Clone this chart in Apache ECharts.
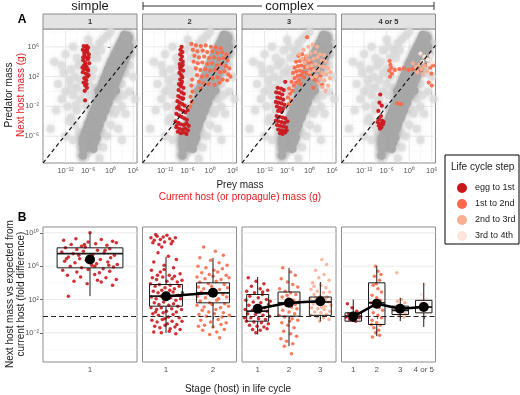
<!DOCTYPE html>
<html>
<head>
<meta charset="utf-8">
<script src="https://cdn.jsdelivr.net/npm/echarts@6/dist/echarts.min.js"></script>
<style>
  html, body { margin: 0; padding: 0; background: #fff; }
  #chart { width: 520px; height: 395px; }
</style>
</head>
<body>
<div id="chart"></div>
<script>
const FONT = '"Liberation Sans", Arial, sans-serif';

// life cycle steps
const stepNames = ['egg to 1st', '1st to 2nd', '2nd to 3rd', '3rd to 4th'];
const stepColors = ['#cb181d', '#fb6a4a', '#fcae91', '#fee5d9'];
const panelNames = ['1', '2', '3', '4 or 5'];

// panel A axes (log10 of mass in g)
const topXTicks = [-12, -6, 0, 6];
const topXLabels = ['10⁻¹²', '10⁻⁶', '10⁰', '10⁶'];
const topXMinor = [-15, -9, -3, 3];
const topYTicks = [-6, -2, 2, 6];
const topYLabels = ['10⁻⁶', '10⁻²', '10²', '10⁶'];
const topYMinor = [-8, -4, 0, 4, 8];
const refLine = [[-18, -9.6], [7, 6.2]];

// panel B axes (log10 of fold difference)
const botYTicks = [-2, 2, 6, 10];
const botYLabels = ['10⁻²', '10²', '10⁶', '10¹⁰'];
const botYMinor = [-4, 0, 4, 8];
const stageLabels = [['1'], ['1', '2'], ['1', '2', '3'], ['1', '2', '3', '4 or 5']];

// predator-prey background cloud [log prey mass, log predator mass]
const grayDense = [
  [-6.6,-7.6],[-5.4,-7.4],[-4.6,-7.7],
  [-7.1,-7.0],[-6.0,-6.9],[-5.1,-7.1],[-4.2,-6.8],
  [-7.3,-6.4],[-6.4,-6.5],[-5.5,-6.3],[-4.5,-6.6],[-3.7,-6.2],
  [-6.9,-5.9],[-6.0,-5.8],[-5.0,-6.0],[-4.0,-5.7],
  [-6.7,-5.4],[-5.7,-5.3],[-4.8,-5.5],[-3.8,-5.2],
  [-6.3,-4.9],[-5.4,-5.0],[-4.3,-4.8],[-3.4,-5.0],
  [-6.0,-4.4],[-5.0,-4.6],[-4.0,-4.3],[-3.0,-4.5],
  [-5.6,-4.0],[-4.6,-3.9],[-3.6,-4.1],[-2.6,-3.8],
  [-5.2,-3.4],[-4.2,-3.6],[-3.2,-3.3],[-2.2,-3.5],
  [-4.8,-3.0],[-3.8,-2.9],[-2.8,-3.1],[-1.8,-2.8],
  [-4.4,-2.4],[-3.4,-2.6],[-2.4,-2.3],[-1.4,-2.5],
  [-4.0,-2.0],[-3.0,-1.9],[-2.0,-2.1],[-1.0,-1.8],
  [-3.6,-1.4],[-2.6,-1.6],[-1.6,-1.3],[-0.6,-1.5],
  [-3.3,-1.0],[-2.2,-0.9],[-1.2,-1.1],[-0.2,-0.8],
  [-3.0,-0.4],[-1.9,-0.6],[-0.9,-0.3],[0.2,-0.5],
  [-3.2,0.1],[-2.0,0.0],[-0.8,0.2],[0.4,-0.1],[1.4,0.1],
  [-2.5,0.6],[-1.4,0.4],[-0.3,0.7],[0.8,0.5],
  [-2.2,1.1],[-1.0,0.9],[0.1,1.2],[1.2,1.0],
  [-1.8,1.6],[-0.6,1.4],[0.5,1.7],[1.6,1.5],
  [-1.4,2.1],[-0.2,1.9],[0.9,2.2],[2.0,2.0],
  [-1.0,2.6],[0.2,2.4],[1.3,2.7],[2.4,2.5],
  [-0.6,3.1],[0.6,2.9],[1.7,3.2],[2.8,3.0],
  [-0.2,3.6],[1.0,3.4],[2.1,3.7],[3.2,3.5],
  [0.2,4.1],[1.4,3.9],[2.5,4.2],[3.6,4.0],
  [0.8,4.6],[1.8,4.4],[2.9,4.7],[4.0,4.5],
  [1.2,5.1],[2.2,4.9],[3.3,5.2],[4.4,5.0],
  [1.7,5.6],[2.7,5.4],[3.7,5.7],[4.7,5.5],
  [2.2,6.1],[3.1,5.9],[4.0,6.2],[5.0,6.0],
  [2.7,6.6],[3.6,6.4],[4.4,6.7],
  [3.2,7.1],[4.0,6.9],[4.8,7.2],
  [3.6,7.6],[4.4,7.5],
  [-7.2,-6.2],[-7.4,-7.0],[-7.2,-7.8],[-7.4,-8.6]
];
const grayFaint = [
  [-14,1],[-13,-1],[-12.5,2.5],[-12,0],[-11.5,-2],[-11,1.5],[-10.5,3],[-10,-0.5],
  [-9.5,2],[-9,-2.5],[-9,0.5],[-8.5,3.5],[-8,-1],[-8,1.5],[-7.5,4],[-7,0],
  [-7,2.5],[-6.5,-2],[-6,3],[-6,1],[-5.5,-0.5],[-5,4.5],[-5,2],[-4.5,0.5],
  [-4,5.5],[-4.5,3],[-3,6.5],[-3.5,4.5],[-2,7],[-2.5,5.5],[-1,7.5],[0,8],
  [-8,-6.5],[-8,-7.5],[-8,-8.5],[-7.5,-9],[-8.5,-5.5],[-9.5,-4.5],[-10.5,-3.5],[-6.5,-8.5],
  [1,-3],[2,-1],[3,1],[4,2.5],[5,3.5],[5.5,5],[6,6.5],[0,-4.5],[-1,-6],[-2,-7.5],
  [3,-2],[5,0],[6,2],[2,-5],[4,-3],
  [-16,-5],[-15,4],[-12,-6],[-10,6],[-6,7],[6.5,-1],[3,-6.5],[-3,-9],[5,7.5],
  [-13,3.5],[-11,-4],[-9,4.5],[-7,5.5],[-12,5],[-14.5,-2.5],[-10,-6.5],[-5.5,6],
  [-5.8,-7.8],[-2.2,-5.5],[1.5,-2.5],[3.5,-0.5],[-9.2,-1.8],[-10.6,0.6]
];

// panel A: parasite transmission [log current host mass, log next host mass]
const a1Egg = [
  [-7.2,6.1],[-6.6,6.0],[-6.0,5.9],[-7.4,5.6],[-6.8,5.5],[-6.2,5.3],[-5.8,5.0],[-7.0,4.9],
  [-6.5,4.6],[-7.3,4.2],[-6.1,4.3],[-6.8,3.9],[-5.7,3.8],[-7.1,3.5],[-6.4,3.3],[-6.9,3.0],
  [-6.0,2.8],[-7.4,2.6],[-6.6,2.4],[-6.2,2.0],[-7.0,1.8],[-6.5,1.5],[-7.2,1.2],[-6.8,0.8],
  [-6.3,0.5],[-6.9,0.1],[-7.3,4.6],[-6.3,5.6],[-5.9,4.6],[-6.7,3.6],[-7.5,3.2],[-6.1,3.0],
  [-6.4,1.0],[-6.8,-1.2],[-7.0,5.2],[-6.4,6.1],[-5.9,2.2]
];
const a2Egg = [
  [-7.6,6.0],[-7.9,5.6],[-7.4,5.3],[-8.0,5.0],[-7.5,4.7],[-7.8,4.3],[-7.3,4.0],[-8.1,3.7],
  [-7.6,3.4],[-7.9,3.0],[-7.2,2.8],[-8.2,2.5],[-7.7,2.2],[-7.4,1.9],[-8.0,1.6],[-7.5,1.3],
  [-8.3,1.0],[-7.8,0.7],[-7.1,0.5],[-8.4,0.2],[-7.6,-0.1],[-7.0,-0.3],[-8.5,-0.6],[-7.9,-0.8],
  [-7.3,-1.0],[-8.7,-1.3],[-8.1,-1.5],[-7.4,-1.7],[-6.8,-1.9],[-8.8,-2.2],[-8.0,-2.4],[-7.2,-2.6],
  [-6.6,-2.8],[-9.0,-3.0],[-8.3,-3.2],[-7.6,-3.4],[-6.9,-3.6],[-6.2,-3.8],[-9.2,-4.0],[-8.5,-4.2],
  [-7.8,-4.4],[-7.0,-4.5],[-6.3,-4.3],[-5.7,-4.6],[-9.0,-4.8],[-8.2,-5.0],[-7.4,-5.1],[-6.6,-5.0],
  [-5.9,-5.2],[-8.6,-5.4],[-7.8,-5.6],[-7.0,-5.5],[-6.3,-5.7],[-8.0,3.3],[-7.3,3.6],[-7.7,1.0],
  [-7.2,-0.9],[-8.4,-2.0],[-6.0,-2.5],[-8.9,-4.6]
];
const a2First = [
  [-5.0,6.4],[-3.8,6.2],[-2.5,6.1],[-1.2,6.2],[0.2,6.0],[1.5,5.9],[2.8,5.8],[-4.6,5.6],
  [-3.4,5.4],[-2.0,5.5],[-0.8,5.3],[0.6,5.4],[1.9,5.2],[3.2,5.3],[4.3,5.0],[-4.2,4.8],
  [-3.0,4.6],[-1.6,4.7],[-0.3,4.5],[1.0,4.6],[2.3,4.4],[3.5,4.5],[4.6,4.2],[-4.4,4.0],
  [-3.3,3.8],[-2.1,3.9],[-0.8,3.7],[0.5,3.8],[1.8,3.5],[3.0,3.7],[4.2,3.4],[5.1,3.1],
  [-3.8,3.1],[-2.6,2.9],[-1.3,3.0],[0.0,2.8],[1.3,2.9],[2.6,2.6],[3.8,2.7],[4.8,2.3],
  [-3.5,2.2],[-2.2,2.0],[-0.9,2.1],[0.6,1.8],[2.0,1.9],[3.3,1.6],[4.5,1.5],[-3.0,1.3],
  [-1.8,1.1],[-0.4,1.0],[1.2,0.9],[-4.8,1.6],[-5.0,0.8],[-4.7,0.0],[-5.2,-0.7],[-4.9,-1.4],
  [-5.3,-2.0],[-2.6,0.4],[5.4,2.0],[2.5,1.2]
];
const a3Egg = [
  [-6.5,1.3],[-8.5,0.5],[-7.6,0.4],[-6.9,0.2],[-8.9,-0.1],[-8.1,-0.2],[-7.3,-0.4],[-8.6,-0.8],
  [-7.8,-0.9],[-7.0,-1.1],[-9.0,-1.4],[-8.3,-1.5],[-7.5,-1.6],[-6.7,-1.8],[-8.7,-2.0],[-7.9,-2.2],
  [-7.1,-2.3],[-8.4,-2.6],[-7.5,-2.7],[-8.8,-3.3],[-8.0,-3.4],[-7.2,-3.5],[-6.5,-3.6],[-9.0,-3.9],
  [-8.3,-4.0],[-7.5,-4.1],[-6.7,-4.2],[-5.9,-4.0],[-8.7,-4.5],[-7.9,-4.6],[-7.1,-4.7],[-6.3,-4.8],
  [-8.4,-5.1],[-7.6,-5.2],[-6.8,-5.3],[-6.1,-5.2],[-7.9,-5.6],[-7.2,-5.7],[-6.5,-5.5]
];
const a3First = [
  [-5.6,-1.7],[-5.0,-1.2],[-5.8,-0.8],[-5.2,-0.3],[-4.6,0.1],[-5.5,0.4],[-4.2,0.8],[-3.6,1.2],
  [-4.8,1.3],[-2.9,1.5],[-4.0,1.8],[-3.2,2.1],[-2.3,2.2],[-1.5,1.9],[-4.4,2.5],[-3.5,2.7],
  [-2.6,2.8],[-1.7,2.6],[-0.8,2.5],[0.1,2.3],[-4.0,3.2],[-3.1,3.4],[-2.2,3.5],[-1.3,3.3],
  [-0.4,3.2],[0.6,3.0],[-3.6,4.0],[-2.6,4.1],[-1.7,4.3],[-0.8,4.0],[0.2,3.9],[-3.0,4.8],
  [-2.0,5.0],[-1.0,4.7],[1.3,1.6],[2.2,1.2],[3.3,0.9],[2.8,2.0],[-0.7,7.3],[1.0,0.5],[-2.4,1.0]
];
const a3Second = [
  [-2.8,5.0],[-1.6,5.6],[-0.4,6.0],[0.8,6.3],[2.0,6.0],[-2.0,4.4],[-0.9,4.8],[0.3,5.1],
  [1.5,5.3],[2.7,5.0],[3.8,4.9],[-1.3,3.9],[-0.2,4.2],[1.0,4.4],[2.1,4.6],[3.2,4.2],
  [4.3,4.0],[-0.6,3.3],[0.5,3.5],[1.6,3.7],[2.7,3.4],[3.8,3.3],[4.9,3.1],[0.0,2.6],
  [1.1,2.8],[2.2,2.9],[3.3,2.5],[4.4,2.3],[5.4,1.8],[0.6,1.9],[1.7,2.1],[2.8,1.7],
  [3.9,1.5],[4.9,0.8],[2.3,1.1],[3.4,0.6],[4.2,0.1],[5.5,2.6]
];
const a4Egg = [
  [-7.7,-0.4],[-7.9,-1.5],[-7.3,-1.9],[-8.2,-2.6],[-7.5,-3.3],[-8.0,-3.7],[-7.2,-3.9],
  [-8.4,-4.1],[-7.7,-4.3],[-7.0,-4.4],[-8.1,-4.6],[-7.4,-4.8],[-7.8,-5.0],[-6.8,-4.1]
];
const a4First = [
  [-5.2,4.1],[-5.0,3.6],[-4.8,3.2],[-5.3,2.8],[-4.6,2.4],[-5.1,2.0],[-3.8,2.9],[-2.6,3.0],
  [-1.4,3.1],[-0.2,2.9],[0.9,3.0],[2.0,3.2],[3.1,2.9],[4.6,3.6],[5.6,3.2],[6.4,3.5],
  [5.9,2.4],[5.2,1.2],[6.0,0.8],[-3.2,-1.6],[-2.2,-1.7]
];
const a4Second = [[1.0,3.8],[1.8,3.3],[2.6,3.6],[3.3,3.0],[4.0,3.4],[4.7,2.7],[2.2,2.6],[3.6,2.3]];
const a4Third = [[3.0,5.1],[4.0,4.7],[4.9,4.3],[5.8,4.8],[6.3,3.9],[3.5,4.0],[5.2,3.6]];

// panel B: jittered points [stage position, log fold difference]
const b1Egg = [
  [0.50,10.0],[0.27,2.4],[0.22,9.1],[0.35,9.3],[0.48,8.9],[0.62,9.2],[0.74,9.0],[0.30,8.6],
  [0.41,8.4],[0.56,8.7],[0.68,8.5],[0.78,8.8],[0.24,8.2],[0.36,8.0],[0.45,8.3],[0.58,7.9],
  [0.71,8.1],[0.20,7.7],[0.32,7.5],[0.43,7.8],[0.53,7.4],[0.65,7.6],[0.76,7.3],[0.27,7.1],
  [0.39,6.9],[0.50,7.2],[0.61,6.8],[0.72,7.0],[0.23,6.6],[0.34,6.4],[0.46,6.7],[0.57,6.3],
  [0.69,6.5],[0.79,6.2],[0.29,6.0],[0.41,5.8],[0.52,6.1],[0.64,5.7],[0.75,5.9],[0.21,5.5],
  [0.36,5.3],[0.48,5.6],[0.60,5.2],[0.71,5.4],[0.26,4.9],[0.40,4.7],[0.55,5.0],[0.67,4.6],
  [0.78,4.4],[0.33,4.2],[0.47,3.9],[0.62,4.1],[0.74,3.7],[0.44,8.6],[0.66,7.9],[0.38,7.3],
  [0.55,6.0],[0.25,6.9],[0.70,6.1],[0.58,4.3]
];
const b2Egg = [
  [0.18,9.4],[0.25,9.1],[0.31,9.6],[0.38,9.2],[0.44,9.5],[0.22,8.8],[0.52,9.7],[0.58,9.3],
  [0.64,9.0],[0.35,8.6],[0.28,9.8],[0.47,8.9],[0.70,9.4],[0.61,8.7],[0.41,8.3],
  [0.33,7.6],[0.55,7.2],[0.72,6.8],[0.24,6.5],[0.46,6.1],[0.66,5.8],[0.19,5.5],[0.38,5.3],
  [0.80,5.1],[0.57,4.9],
  [0.21,4.6],[0.30,4.4],[0.43,4.7],[0.52,4.2],[0.63,4.5],[0.74,4.1],[0.84,4.3],[0.17,3.9],
  [0.27,3.6],[0.36,3.8],[0.48,3.4],[0.59,3.7],[0.68,3.3],[0.78,3.6],[0.23,3.0],[0.33,2.8],
  [0.41,3.1],[0.55,2.7],[0.65,2.9],[0.76,2.5],[0.85,2.8],[0.19,2.3],[0.29,2.1],[0.39,2.4],
  [0.50,2.0],[0.60,2.2],[0.71,1.9],[0.81,2.1],[0.25,1.6],[0.35,1.4],[0.45,1.7],[0.56,1.3],
  [0.66,1.5],[0.75,1.2],[0.18,1.0],[0.30,0.8],[0.40,1.0],[0.51,0.6],[0.62,0.9],[0.72,0.5],
  [0.83,0.8],[0.22,0.3],[0.34,0.1],[0.44,0.4],[0.55,-0.1],[0.65,0.2],[0.78,-0.2],[0.20,-0.5],
  [0.31,-0.7],[0.42,-0.4],[0.53,-0.9],[0.63,-0.6],[0.73,-1.0],[0.84,-0.6],[0.26,-1.2],[0.37,-1.4],
  [0.48,-1.1],[0.59,-1.5],[0.69,-1.3],[0.80,-1.6],[0.24,-1.9],[0.40,-2.0],[0.57,-1.8],[0.71,-2.1],
  [0.32,4.9],[0.68,4.8],[0.46,5.6],[0.28,0.5],[0.58,3.1],[0.47,-0.3]
];
const b2First = [
  [1.30,8.3],[1.55,7.8],[1.72,7.3],[1.22,7.0],[1.45,6.7],[1.63,6.4],[1.80,6.1],[1.18,6.0],
  [1.35,5.8],[1.52,5.5],[1.70,5.7],[1.26,5.2],[1.42,5.0],[1.60,5.3],[1.78,4.9],[1.16,4.7],
  [1.33,4.5],[1.50,4.8],[1.67,4.4],[1.84,4.6],[1.22,4.1],[1.40,3.9],[1.57,4.2],[1.74,3.8],
  [1.19,3.5],[1.30,3.3],[1.47,3.6],[1.64,3.2],[1.81,3.4],[1.25,2.9],[1.38,2.7],[1.55,3.0],
  [1.71,2.6],[1.17,2.4],[1.34,2.2],[1.50,2.5],[1.62,2.1],[1.79,2.3],[1.23,1.8],[1.43,1.6],
  [1.58,1.9],[1.75,1.5],[1.16,1.3],[1.31,1.1],[1.48,1.4],[1.66,1.0],[1.83,1.2],[1.27,0.7],
  [1.41,0.5],[1.56,0.8],[1.72,0.4],[1.20,0.2],[1.36,0.0],[1.53,0.3],[1.69,-0.1],[1.85,0.1],
  [1.24,-0.5],[1.45,-0.7],[1.61,-0.4],[1.78,-0.8],[1.32,-1.1],[1.50,-1.3],[1.67,-1.0],[1.28,-1.7],
  [1.58,-1.9],[1.43,-2.2],[1.64,-2.6],[1.74,-1.6],[1.19,-1.2]
];
const b3Egg = [
  [0.20,4.6],[0.45,4.2],[0.70,3.9],[0.30,3.6],[0.58,3.3],[0.15,3.0],[0.82,3.1],[0.40,2.8],
  [0.65,2.6],[0.25,2.4],[0.52,2.2],[0.78,2.0],[0.12,1.9],[0.36,1.7],[0.60,1.6],[0.85,1.4],
  [0.22,1.3],[0.47,1.1],[0.72,1.0],[0.10,0.8],[0.33,0.7],[0.57,0.5],[0.80,0.6],[0.18,0.3],
  [0.43,0.2],[0.67,0.1],[0.88,0.0],[0.28,-0.2],[0.53,-0.3],[0.75,-0.4],[0.14,-0.6],[0.38,-0.7],
  [0.62,-0.8],[0.84,-0.9],[0.24,-1.1],[0.48,-1.2],[0.70,-1.3],[0.34,-1.6],[0.58,-1.7],[0.80,-1.5],
  [0.44,-2.0],[0.66,2.9],[0.90,1.8],[0.08,-0.2]
];
const b3First = [
  [1.30,5.8],[1.55,5.3],[1.70,4.9],[1.25,4.5],[1.45,4.1],[1.62,3.8],[1.78,3.5],[1.20,3.3],
  [1.38,3.0],[1.55,2.8],[1.72,2.6],[1.28,2.3],[1.48,2.1],[1.65,1.9],[1.82,1.7],[1.22,1.5],
  [1.40,1.3],[1.58,1.1],[1.75,0.9],[1.30,0.7],[1.50,0.5],[1.68,0.3],[1.18,0.1],[1.36,-0.1],
  [1.60,-0.3],[1.78,-0.5],[1.27,-0.8],[1.46,-1.1],[1.66,-1.4],[1.33,-1.8],[1.55,-2.1],[1.74,-2.4],
  [1.24,-2.7],[1.42,-3.0],[1.62,-3.3],[1.35,-3.6],[1.58,-4.5],[1.70,1.4],[1.44,2.5],[1.52,-0.6]
];
const b3Second = [
  [2.55,6.8],[2.70,6.2],[2.35,5.5],[2.62,5.0],[2.45,4.6],[2.78,4.3],[2.25,4.0],[2.52,3.7],
  [2.68,3.4],[2.20,3.2],[2.40,3.0],[2.60,2.8],[2.80,2.9],[2.30,2.6],[2.50,2.4],[2.72,2.3],
  [2.18,2.1],[2.38,1.9],[2.58,1.8],[2.76,1.7],[2.27,1.5],[2.47,1.4],[2.65,1.2],[2.84,1.3],
  [2.22,1.0],[2.42,0.9],[2.62,0.8],[2.80,0.6],[2.32,0.5],[2.52,0.4],[2.70,0.2],[2.20,0.1],
  [2.40,-0.1],[2.60,-0.2],[2.78,-0.4],[2.48,-0.6],[2.35,2.2],[2.66,2.0],[2.55,1.1],[2.30,3.6]
];
const b4Egg = [[0.25,1.5],[0.45,1.0],[0.65,0.6],[0.30,0.3],[0.55,0.1],[0.75,-0.2],[0.35,-0.4],[0.60,-0.6],[0.20,-0.1],[0.50,-0.5]];
const b4First = [
  [1.45,6.0],[1.55,5.4],[1.40,4.8],[1.62,4.3],[1.35,3.7],[1.55,3.3],[1.70,2.9],[1.30,2.5],
  [1.50,2.2],[1.65,1.9],[1.25,1.6],[1.45,1.3],[1.60,1.0],[1.75,0.7],[1.35,0.4],[1.55,0.1],
  [1.70,-0.2],[1.30,-0.5],[1.50,-0.8],[1.65,-1.1],[1.38,-1.4],[1.58,-1.7],[1.45,-2.0],[1.62,-2.3],
  [1.32,-2.5],[1.48,3.9],[1.68,5.0],[1.28,-1.0]
];
const b4Second = [[2.35,5.2],[2.55,2.0],[2.70,1.6],[2.40,1.3],[2.60,1.0],[2.30,0.7],[2.50,0.5],[2.72,0.3],[2.45,0.1],[2.65,-0.1],[2.38,1.8],[2.58,0.8]];
const b4Third = [[3.55,3.8],[3.40,2.6],[3.62,2.1],[3.35,1.6],[3.50,1.2],[3.68,0.8],[3.42,0.5],[3.58,0.2],[3.70,1.5],[3.30,0.9]];

// boxplot stats per stage: [lower whisker, Q1, median, Q3, upper whisker]
const b1Box = [[2.4, 5.8, 7.5, 8.2, 10.0]];
const b2Box = [[-2.0, 1.2, 2.4, 3.8, 7.1], [-1.4, 1.6, 2.8, 4.0, 7.0]];
const b3Box = [[-2.2, -0.6, 0.6, 2.6, 4.7], [-3.6, 0.0, 1.6, 2.9, 5.8], [-0.6, 0.1, 1.7, 2.3, 4.1]];
const b4Box = [[-0.7, -0.6, 0.0, 0.4, 2.0], [-2.4, -1.0, 1.6, 4.0, 6.0], [-0.6, 0.2, 0.7, 1.2, 2.2], [-1.3, 0.4, 1.1, 1.9, 4.0]];
// means per stage
const b1Mean = [6.8];
const b2Mean = [2.4, 2.8];
const b3Mean = [0.9, 1.6, 1.8];
const b4Mean = [-0.05, 1.5, 0.9, 1.1];

const topPoints = [
  [a1Egg],
  [a2Egg, a2First],
  [a3Egg, a3First, a3Second],
  [a4Egg, a4First, a4Second, a4Third]
];
const botPoints = [
  [b1Egg],
  [b2Egg, b2First],
  [b3Egg, b3First, b3Second],
  [b4Egg, b4First, b4Second, b4Third]
];
const botBoxes = [b1Box, b2Box, b3Box, b4Box];
const botMeans = [b1Mean, b2Mean, b3Mean, b4Mean];

const panelLeft = [43, 142.5, 242, 341.5];
const panelW = 94;

const grids = [], xAxes = [], yAxes = [], series = [];
const labelStyle = { fontSize: 7.5, color: '#555', fontFamily: FONT };

function gridLines(gi, xMaj, xMin, yMaj, yMin) {
  const data = [];
  xMin.forEach(v => data.push([v, 0]));
  xMaj.forEach(v => data.push([v, 1]));
  yMin.forEach(v => data.push([v, 2]));
  yMaj.forEach(v => data.push([v, 3]));
  return {
    type: 'custom', xAxisIndex: gi, yAxisIndex: gi, silent: true, z: 1,
    data: data,
    renderItem: (params, api) => {
      const v = api.value(0), kind = api.value(1);
      const cs = params.coordSys;
      let shape;
      if (kind < 2) {
        const x = api.coord([v, 0])[0];
        shape = { x1: x, y1: cs.y, x2: x, y2: cs.y + cs.height };
      } else {
        const y = api.coord([0, v])[1];
        shape = { x1: cs.x, y1: y, x2: cs.x + cs.width, y2: y };
      }
      const major = kind % 2 === 1;
      return { type: 'line', shape: shape, style: { stroke: major ? '#e4e4e4' : '#f2f2f2', lineWidth: major ? 0.8 : 0.5 } };
    }
  };
}

const dot = (color, opacity) => ({ color: color, opacity: opacity, borderWidth: 0, borderColor: 'transparent' });

// panel A
panelLeft.forEach((l, i) => {
  grids.push({ left: l, top: 29, width: panelW, height: 134, show: true, backgroundColor: '#fff', borderColor: '#8c8c8c', borderWidth: 1 });
  xAxes.push({
    type: 'value', gridIndex: i, min: -18, max: 7,
    axisLine: { show: false }, splitLine: { show: false },
    axisTick: { customValues: topXTicks, length: 3, lineStyle: { color: '#666' } },
    axisLabel: Object.assign({ customValues: topXTicks, margin: 4, formatter: v => topXLabels[topXTicks.indexOf(v)] }, labelStyle)
  });
  yAxes.push({
    type: 'value', gridIndex: i, min: -9.6, max: 8.4,
    axisLine: { show: false }, splitLine: { show: false },
    axisTick: { show: i === 0, customValues: topYTicks, length: 3, lineStyle: { color: '#666' } },
    axisLabel: Object.assign({ show: i === 0, customValues: topYTicks, margin: 4, formatter: v => topYLabels[topYTicks.indexOf(v)] }, labelStyle)
  });
  series.push(gridLines(i, topXTicks, topXMinor, topYTicks, topYMinor));
  series.push({ type: 'scatter', xAxisIndex: i, yAxisIndex: i, data: grayFaint, symbolSize: 8, silent: true, z: 2,
    itemStyle: Object.assign(dot('#dcdcdc', 0.75), { shadowBlur: 4, shadowColor: 'rgba(200,200,200,0.8)' }) });
  series.push({ type: 'scatter', xAxisIndex: i, yAxisIndex: i, data: grayDense, symbolSize: 8.5, silent: true, z: 2,
    itemStyle: Object.assign(dot('#a9a9a9', 1), { shadowBlur: 4, shadowColor: 'rgba(170,170,170,0.9)' }) });
  topPoints[i].forEach((pts, s) => {
    series.push({ type: 'scatter', name: stepNames[s], xAxisIndex: i, yAxisIndex: i, data: pts, symbolSize: 4.2, z: 4,
      itemStyle: dot(stepColors[s], 0.95) });
  });
  series.push({ type: 'line', xAxisIndex: i, yAxisIndex: i, data: refLine, symbol: 'none', silent: true, z: 6,
    lineStyle: { color: '#111', width: 1.2, type: [4, 3] } });
});

// panel B
panelLeft.forEach((l, i) => {
  const gi = i + 4;
  const n = stageLabels[i].length;
  const pos = stageLabels[i].map((s, k) => k + 0.5);
  grids.push({ left: l, top: 227, width: panelW, height: 135, show: true, backgroundColor: '#fff', borderColor: '#8c8c8c', borderWidth: 1 });
  xAxes.push({
    type: 'value', gridIndex: gi, min: 0, max: n,
    axisLine: { show: false }, splitLine: { show: false },
    axisTick: { customValues: pos, length: 3, lineStyle: { color: '#666' } },
    axisLabel: Object.assign({ customValues: pos, margin: 4, formatter: v => stageLabels[i][Math.floor(v)] }, labelStyle, { fontSize: 8 })
  });
  yAxes.push({
    type: 'value', gridIndex: gi, min: -5.5, max: 10.7,
    axisLine: { show: false }, splitLine: { show: false },
    axisTick: { show: i === 0, customValues: botYTicks, length: 3, lineStyle: { color: '#666' } },
    axisLabel: Object.assign({ show: i === 0, customValues: botYTicks, margin: 4, formatter: v => botYLabels[botYTicks.indexOf(v)] }, labelStyle)
  });
  series.push(gridLines(gi, [], [], botYTicks, botYMinor));
  botPoints[i].forEach((pts, s) => {
    series.push({ type: 'scatter', name: stepNames[s], xAxisIndex: gi, yAxisIndex: gi, data: pts, symbolSize: 3.5, z: 3,
      itemStyle: dot(stepColors[s], 0.9) });
  });
  series.push({
    type: 'custom', xAxisIndex: gi, yAxisIndex: gi, silent: true, z: 5,
    data: botBoxes[i].map((b, k) => [pos[k]].concat(b)),
    encode: { x: 0, y: [1, 2, 3, 4, 5] },
    renderItem: (params, api) => {
      const x = api.value(0), hw = 0.35;
      const lo = api.coord([x, api.value(1)]);
      const q1 = api.coord([x, api.value(2)]);
      const md = api.coord([x, api.value(3)]);
      const q3 = api.coord([x, api.value(4)]);
      const hi = api.coord([x, api.value(5)]);
      const xl = api.coord([x - hw, 0])[0], xr = api.coord([x + hw, 0])[0];
      const st = { stroke: '#1a1a1a', lineWidth: 1, fill: 'none' };
      return { type: 'group', children: [
        { type: 'line', shape: { x1: lo[0], y1: lo[1], x2: q1[0], y2: q1[1] }, style: st },
        { type: 'line', shape: { x1: q3[0], y1: q3[1], x2: hi[0], y2: hi[1] }, style: st },
        { type: 'rect', shape: { x: xl, y: q3[1], width: xr - xl, height: q1[1] - q3[1] }, style: st },
        { type: 'line', shape: { x1: xl, y1: md[1], x2: xr, y2: md[1] }, style: { stroke: '#1a1a1a', lineWidth: 1.8 } }
      ] };
    }
  });
  series.push({
    type: 'line', xAxisIndex: gi, yAxisIndex: gi, silent: true, z: 10,
    data: botMeans[i].map((m, k) => [pos[k], m]),
    symbol: 'circle', symbolSize: 10, showSymbol: true,
    itemStyle: { color: '#000', borderWidth: 0 }, lineStyle: { color: '#000', width: 2.5 },
    markLine: { silent: true, symbol: 'none', label: { show: false }, z: 6,
      lineStyle: { color: '#222', width: 1.1, type: [5, 3] }, data: [{ yAxis: 0 }] }
  });
});

const txt = (x, y, text, size, extra) => ({
  type: 'text', x: x, y: y, silent: true,
  style: Object.assign({ text: text, fontSize: size, fontFamily: FONT, fill: '#1a1a1a', align: 'center', verticalAlign: 'middle' }, extra || {})
});
const vtxt = (x, y, text, size, color) => ({
  type: 'text', x: x, y: y, rotation: Math.PI / 2, silent: true,
  style: { text: text, fontSize: size, fontFamily: FONT, fill: color, align: 'center', verticalAlign: 'middle' }
});

const graphic = [];
panelLeft.forEach((l, i) => {
  graphic.push({ type: 'rect', silent: true, shape: { x: l, y: 14, width: panelW, height: 15 },
    style: { fill: '#e3e3e3', stroke: '#8c8c8c', lineWidth: 1 } });
  graphic.push(txt(l + panelW / 2, 21.5, panelNames[i], 7.5, { fontWeight: 'bold', fill: '#333' }));
});
graphic.push(txt(90, 6, 'simple', 13));
graphic.push(txt(289.5, 6, 'complex', 13));
graphic.push({ type: 'line', silent: true, shape: { x1: 143, y1: 6, x2: 262, y2: 6 }, style: { stroke: '#333', lineWidth: 1 } });
graphic.push({ type: 'line', silent: true, shape: { x1: 317, y1: 6, x2: 434, y2: 6 }, style: { stroke: '#333', lineWidth: 1 } });
graphic.push({ type: 'line', silent: true, shape: { x1: 143, y1: 2, x2: 143, y2: 10 }, style: { stroke: '#333', lineWidth: 1 } });
graphic.push({ type: 'line', silent: true, shape: { x1: 434, y1: 2, x2: 434, y2: 10 }, style: { stroke: '#333', lineWidth: 1 } });
graphic.push(txt(22, 20, 'A', 12, { fontWeight: 'bold', fill: '#000' }));
graphic.push(txt(22, 218, 'B', 12, { fontWeight: 'bold', fill: '#000' }));
graphic.push(vtxt(9, 95, 'Predator mass', 10, '#1a1a1a'));
graphic.push(vtxt(21, 95, 'Next host mass (g)', 10, '#e31a1c'));
graphic.push(txt(240, 185, 'Prey mass', 10));
graphic.push(txt(240, 197, 'Current host (or propagule) mass (g)', 10, { fill: '#e31a1c' }));
graphic.push(vtxt(10, 294, 'Next host mass vs expected from', 10, '#1a1a1a'));
graphic.push(vtxt(21, 294, 'current host (fold difference)', 10, '#1a1a1a'));
graphic.push(txt(238, 389, 'Stage (host) in life cycle', 10));
graphic.push({ type: 'rect', silent: true, shape: { x: 445, y: 155, width: 74, height: 89 },
  style: { fill: 'none', stroke: '#000', lineWidth: 1 } });
graphic.push(txt(451, 167, 'Life cycle step', 10, { align: 'left' }));

const chart = echarts.init(document.getElementById('chart'), null, { renderer: 'canvas' });
chart.setOption({
  animation: false,
  backgroundColor: '#fff',
  textStyle: { fontFamily: FONT },
  grid: grids,
  xAxis: xAxes,
  yAxis: yAxes,
  legend: {
    orient: 'vertical', left: 452, top: 178, itemWidth: 10, itemHeight: 10, itemGap: 6,
    icon: 'circle', selectedMode: false,
    data: stepNames.map((n, i) => ({ name: n, itemStyle: { color: stepColors[i], opacity: 1 } })),
    textStyle: { fontSize: 9, color: '#222', fontFamily: FONT, padding: [0, 0, 0, 3] }
  },
  graphic: graphic,
  series: series
});
window.addEventListener('resize', () => { chart.resize(); });
</script>
</body>
</html>
